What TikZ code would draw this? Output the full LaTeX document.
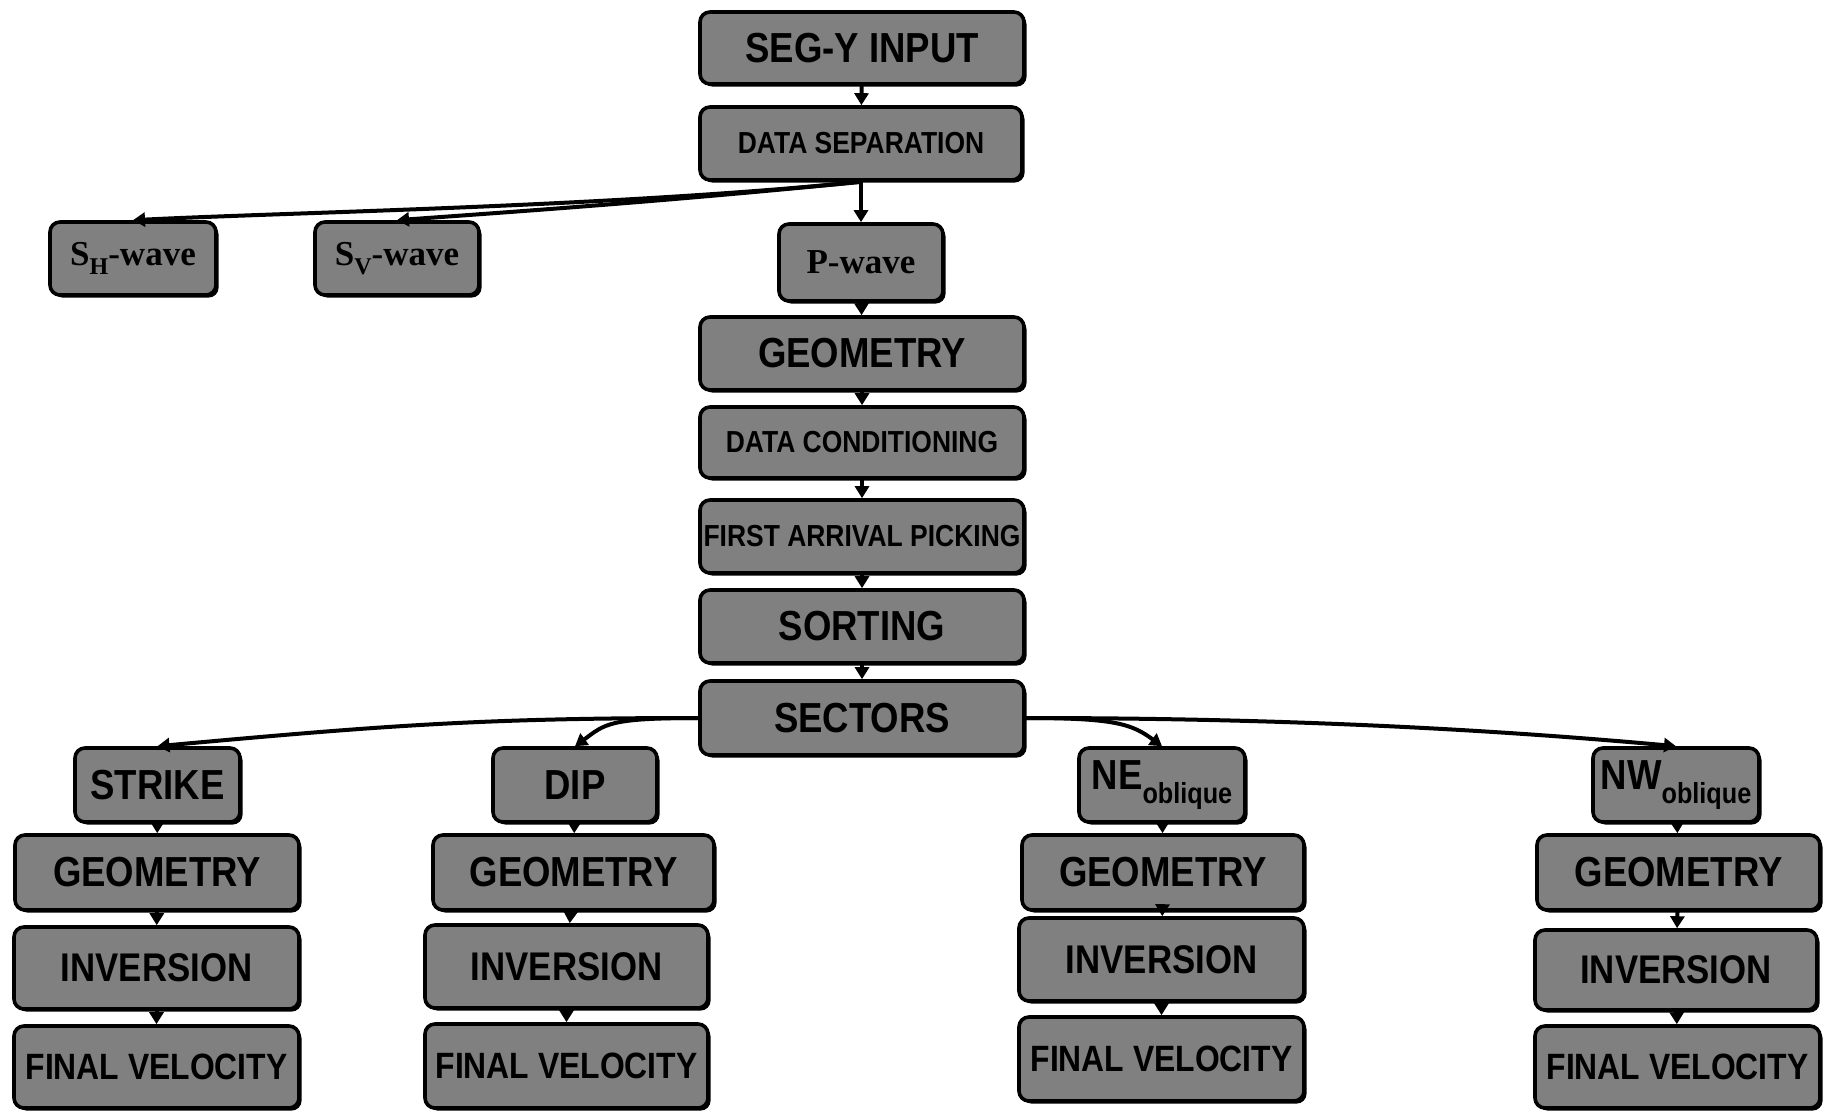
\documentclass[tikz,border=0pt]{standalone}
\usepackage{fontspec}
\usetikzlibrary{arrows.meta,shadows}
\newfontfamily\boxfont[FakeStretch=0.87]{Liberation Sans}
\newfontfamily\serifbox{Liberation Serif}
\definecolor{boxgray}{HTML}{808080}
\begin{document}
\begin{tikzpicture}[x=0.5pt,y=-0.5pt,
  box/.style={draw=black, line width=1.8pt, fill=boxgray, rounded corners=5pt,
    inner sep=0pt, align=center, text=black,
    drop shadow={shadow xshift=1.3pt, shadow yshift=-1.3pt, fill=black, opacity=1}},
  sz/.style n args={2}{minimum width=#1*0.5pt, minimum height=#2*0.5pt},
  big/.style={font=\boxfont\bfseries\fontsize{21}{22}\selectfont},
  mid/.style={font=\boxfont\bfseries\fontsize{20}{21}\selectfont},
  fv/.style={font=\boxfont\bfseries\fontsize{18.3}{19}\selectfont},
  small/.style={font=\boxfont\bfseries\fontsize{15.2}{16}\selectfont},
  wave/.style={font=\serifbox\bfseries\fontsize{17.5}{18}\selectfont},
  arr/.style={-{Triangle[length=6pt,width=7pt]}, line width=2pt, draw=black}]
\useasboundingbox (0,0) rectangle (1829,1111);

% central column
\node[box, sz={324}{72}, big] (segy) at (862,48) {SEG-Y INPUT};
\node[box, sz={322}{73}, small] (dsep) at (861,143.5) {DATA SEPARATION};
\node[box, sz={166}{73}, wave] (sh) at (133,258.5) {S\raisebox{-0.55ex}{\fontsize{12}{12}\selectfont H}-wave};
\node[box, sz={164}{73}, wave] (sv) at (397,258.5) {S\raisebox{-0.55ex}{\fontsize{12}{12}\selectfont V}-wave};
\node[box, sz={164}{77}, wave] (pw) at (861,262.5) {P-wave};
\node[box, sz={324}{73}, big] (geo) at (862,353.5) {GEOMETRY};
\node[box, sz={324}{71}, small] (dcond) at (862,442.5) {DATA CONDITIONING};
\node[box, sz={324}{73}, small] (fap) at (862,536.5) {FIRST ARRIVAL PICKING};
\node[box, sz={324}{73}, big] (sort) at (862,626.5) {SORTING};
\node[box, sz={324}{74}, big] (sect) at (862,718) {SECTORS};

% sector boxes
\node[box, sz={165}{74}, big] (strike) at (157.5,785) {STRIKE};
\node[box, sz={164}{74}, big] (dip) at (575,785) {DIP};
\node[box, sz={166}{74}, big] (ne) at (1162,785) {NE\raisebox{-0.6ex}{\fontsize{14.5}{15}\selectfont oblique}};
\node[box, sz={166}{74}, big] (nw) at (1676,785) {NW\raisebox{-0.6ex}{\fontsize{14.5}{15}\selectfont oblique}};

% geometry row
\node[box, sz={284}{75}, big] (g1) at (157,872.5) {GEOMETRY};
\node[box, sz={281}{75}, big] (g2) at (573.5,872.5) {GEOMETRY};
\node[box, sz={282}{75}, big] (g3) at (1163,872.5) {GEOMETRY};
\node[box, sz={283}{75}, big] (g4) at (1678.5,872.5) {GEOMETRY};

% inversion row
\node[box, sz={285}{82}, mid] (i1) at (156.5,968) {INVERSION};
\node[box, sz={283}{83}, mid] (i2) at (566.5,966.5) {INVERSION};
\node[box, sz={285}{83}, mid] (i3) at (1161.5,959.5) {INVERSION};
\node[box, sz={282}{80}, mid] (i4) at (1676,970) {INVERSION};

% final velocity row
\node[box, sz={285}{82}, fv] (f1) at (156.5,1067) {FINAL VELOCITY};
\node[box, sz={283}{84}, fv] (f2) at (566.5,1066) {FINAL VELOCITY};
\node[box, sz={285}{84}, fv] (f3) at (1161.5,1059) {FINAL VELOCITY};
\node[box, sz={285}{82}, fv] (f4) at (1677.5,1067) {FINAL VELOCITY};

% vertical connectors
\draw[arr] (segy) -- (dsep);
\draw[arr] (dsep) -- (pw);
\draw[arr] (pw) -- (geo);
\draw[arr] (geo) -- (dcond);
\draw[arr] (dcond) -- (fap);
\draw[arr] (fap) -- (sort);
\draw[arr] (sort) -- (sect);
\draw[arr] (strike) -- (g1);
\draw[arr] (g1) -- (i1);
\draw[arr] (i1) -- (f1);
\draw[arr] (dip) -- (g2);
\draw[arr] (g2) -- (i2);
\draw[arr] (i2) -- (f2);
\draw[arr] (ne) -- (g3);
\draw[arr] (g3) -- (i3);
\draw[arr] (i3) -- (f3);
\draw[arr] (nw) -- (g4);
\draw[arr] (g4) -- (i4);
\draw[arr] (i4) -- (f4);

% fan from data separation
\draw[arr] (dsep.south) .. controls +(-250,25) and +(160,-8) .. (sh.north);
\draw[arr] (dsep.south) .. controls +(-200,20) and +(110,-8) .. (sv.north);

% fan from sectors
\draw[arr] (sect.west) .. controls +(-220,0) and +(220,-20) .. (strike.north);
\draw[arr] (sect.west) .. controls +(-90,0) and +(30,-22) .. (dip.north);
\draw[arr] (sect.east) .. controls +(90,0) and +(-30,-22) .. (ne.north);
\draw[arr] (sect.east) .. controls +(220,0) and +(-220,-20) .. (nw.north);
\end{tikzpicture}
\end{document}
